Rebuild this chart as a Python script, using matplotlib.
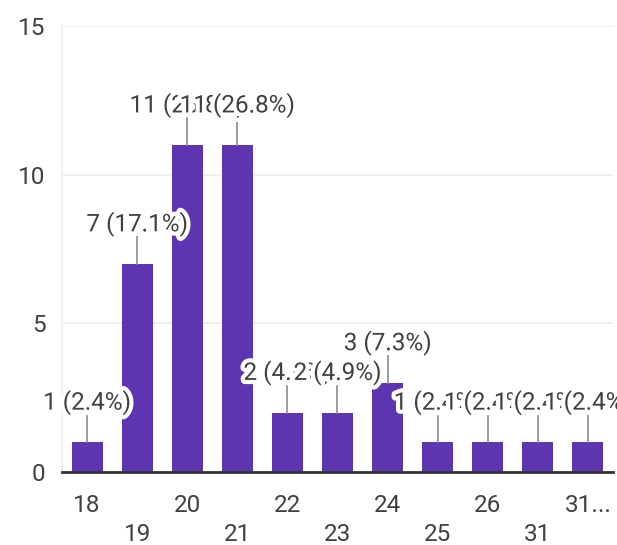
import matplotlib
matplotlib.use("Agg")
import matplotlib.pyplot as plt
import matplotlib.patheffects as pe
import numpy as np

categories = ["18", "19", "20", "21", "22", "23", "24", "25", "26", "31", "31..."]
values = [1, 7, 11, 11, 2, 2, 3, 1, 1, 1, 1]
yticks = [0, 5, 10, 15]

plt.rcParams['font.family'] = ['Roboto', 'DejaVu Sans']

fig = plt.figure(figsize=(6.17, 5.45), dpi=100)
ax = fig.add_axes([0.1005, 0.134, 0.893, 0.818])

x = np.arange(len(categories))
total = sum(values)
bar_color = "#5E35B1"
ax.bar(x, values, width=0.62, color=bar_color, zorder=2)

for xi, v in zip(x, values):
    ax.plot([xi, xi], [v, v + 0.9], color="#8a8a8a", lw=1.2, zorder=3)
for xi, v in zip(x, values):
    pct = v / total * 100
    ax.text(xi, v + 1.33, f"{v} ({pct:.1f}%)", ha="center", va="center",
            fontsize=17.5, color="#404040", zorder=4, clip_on=False,
            path_effects=[pe.withStroke(linewidth=6, foreground="white")])

ax.set_xlim(-0.5, 10.5)
ax.set_ylim(0, 15)
ax.set_yticks(yticks)
ax.set_yticklabels([str(t) for t in yticks])
ax.yaxis.grid(True, color="#ececec", lw=1.2, zorder=0)
ax.set_axisbelow(True)

even = x[::2]
odd = x[1::2]
ax.set_xticks(even)
ax.set_xticklabels([categories[i] for i in even])
ax.set_xticks(odd, minor=True)
ax.set_xticklabels([categories[i] for i in odd], minor=True)
ax.tick_params(axis="x", which="major", length=0, pad=16, labelsize=17.5, labelcolor="#404040")
ax.tick_params(axis="x", which="minor", length=0, pad=37, labelsize=17.5, labelcolor="#404040")
ax.tick_params(axis="y", length=0, pad=12, labelsize=17.5, labelcolor="#404040")

for s in ["top", "right"]:
    ax.spines[s].set_visible(False)
ax.spines["left"].set_color("#eeeeee")
ax.spines["left"].set_linewidth(1.2)
ax.spines["bottom"].set_color("#333333")
ax.spines["bottom"].set_linewidth(2)
ax.spines["bottom"].set_zorder(3)

fig.savefig("out.png", dpi=100, facecolor="white")
